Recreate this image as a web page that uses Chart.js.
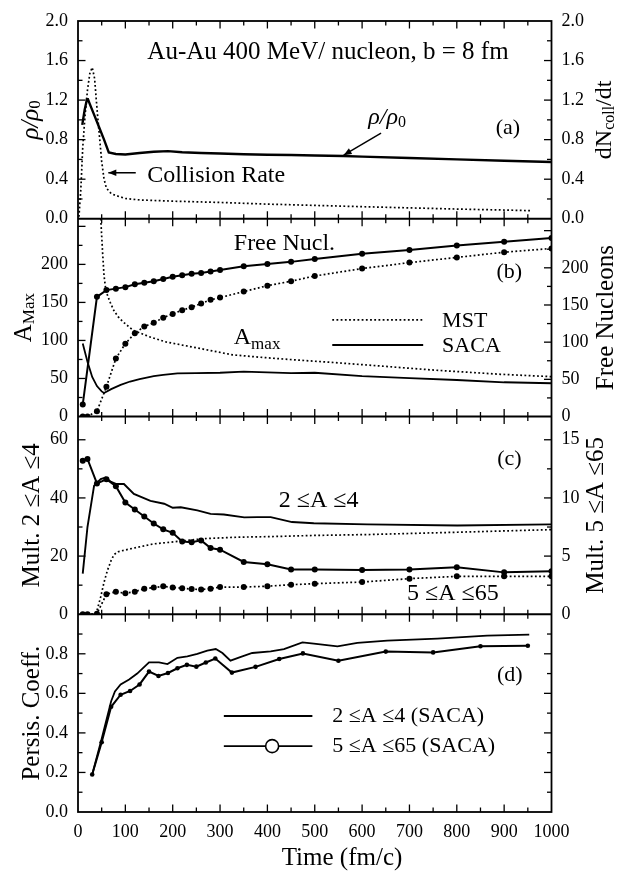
<!DOCTYPE html>
<html><head><meta charset="utf-8">
<script src="https://cdn.jsdelivr.net/npm/chart.js@4.4.1/dist/chart.umd.min.js"></script>
<style>html,body{margin:0;padding:0;background:#fff;}canvas{display:block;}</style>
</head><body>
<canvas id="c" width="620" height="872"></canvas>
<script>
const FONT = "'Liberation Serif','Times New Roman',Times,serif";

// ---------------- tick labels ----------------
const timeTicks   = [0,100,200,300,400,500,600,700,800,900,1000];
const rhoTicks    = [0,0.4,0.8,1.2,1.6,2.0];
const collTicks   = [0,0.4,0.8,1.2,1.6,2.0];
const amaxTicks   = [0,50,100,150,200];
const freeTicks   = [0,50,100,150,200];
const mult24Ticks = [0,20,40,60];
const mult565Ticks= [0,5,10,15];
const persTicks   = [0,0.2,0.4,0.6,0.8];

// ---------------- (a) density and collision rate ----------------
const rhoT  = [9,14,19,21,25,35,45,55,65,80,100,130,160,190,220,260,300,350,400,450,500,560,600,700,800,900,1000];
const rhoV  = [0.95,1.10,1.21,1.21,1.16,1.04,0.92,0.80,0.67,0.655,0.65,0.665,0.677,0.684,0.672,0.665,0.66,0.653,0.648,0.645,0.64,0.635,0.628,0.614,0.60,0.587,0.574];
const collT = [2,6,10,15,20,25,30,35,40,45,50,55,60,70,80,100,130,160,200,260,300,400,500,600,700,800,900,955];
const collV = [0.02,0.3,0.72,1.05,1.3,1.47,1.53,1.42,1.12,0.85,0.58,0.40,0.31,0.255,0.235,0.205,0.19,0.185,0.178,0.17,0.165,0.148,0.135,0.122,0.11,0.098,0.088,0.082];

// ---------------- (b) Amax and free nucleons ----------------
const freeSacaT = [10,40,60,80,100,120,140,160,180,200,220,240,260,280,300,350,400,450,500,600,700,800,900,1000];
const freeSacaV = [16,161,170,172,174,178,180,182,185,188,190,192,193,195,197,202,205,208,212,219,224,230,235,240];
const freeMstT  = [10,20,40,60,80,100,120,140,160,180,200,220,240,260,280,300,350,400,450,500,600,700,800,900,1000];
const freeMstV  = [0,0,7,40,78,98,112,121,126,133,138,143,147,152,157,160,168,176,182,189,199,207,214,221,226];
const amaxSacaT = [10,20,30,40,50,55,70,90,110,130,160,180,210,250,300,350,400,450,500,600,700,800,900,1000];
const amaxSacaV = [96,72,52,40,33,31,36,41.5,46,49,53,54.6,56.8,57,57.5,59,58,57,57.5,53,50.5,48,45,43.7];
const amaxMstT  = [48,52,55,58,62,68,76,85,95,116,150,186,257,327,397,468,540,611,752,892,1000];
const amaxMstV  = [260,215,185,170,160,150,139,131,124.5,113.5,105,98,89.5,81,77.3,74,71,67.7,61,55.5,52.4];

// ---------------- (c) multiplicities ----------------
const m24SacaT  = [10,20,34,48,58,70,80,97,118,153,182,200,217,252,280,308,351,379,407,452,498,611,801,1000];
const m24SacaV  = [14,30,44.2,46.5,47,45.5,44.8,44.8,41.4,39,38,36.6,36.8,35.7,34.5,34.3,33.3,33.4,33.4,31.7,31.3,30.9,30.5,30.9];
const m24MstT   = [38,48,55,62,70,76,85,97,125,160,196,266,336,407,498,611,801,1000];
const m24MstV   = [0,6,11,15,18.5,20.5,21.5,22,23,24.2,24.8,26,26.5,26.7,27.1,27.4,28.2,29.1];
const m565SacaT = [10,20,40,60,80,100,120,140,160,180,200,220,240,260,280,300,350,400,450,500,600,700,800,900,1000];
const m565SacaV = [13.2,13.35,11.25,11.6,11.0,9.6,9.0,8.4,7.8,7.3,7.0,6.25,6.2,6.35,5.7,5.55,4.5,4.3,3.85,3.85,3.8,3.85,4.05,3.6,3.7];
const m565MstT  = [10,20,40,60,80,100,120,140,160,180,200,220,240,260,280,300,350,400,450,500,600,700,800,900,1000];
const m565MstV  = [0,0,0.05,1.72,1.94,1.8,1.94,2.2,2.29,2.4,2.31,2.23,2.17,2.12,2.2,2.34,2.34,2.41,2.54,2.63,2.77,3.06,3.26,3.26,3.26];

// ---------------- (d) persistence coefficients ----------------
const pers24T  = [30,50,70,78,90,108,125,150,171,189,210,231,252,273,291,305,322,344,368,407,435,474,498,548,590,653,759,864,953];
const pers24V  = [0.19,0.37,0.56,0.61,0.645,0.67,0.70,0.757,0.757,0.748,0.78,0.787,0.80,0.816,0.824,0.804,0.765,0.784,0.804,0.8125,0.824,0.858,0.851,0.838,0.855,0.867,0.877,0.892,0.897];
const pers565T = [30,50,70,90,110,130,150,170,190,210,230,250,270,290,325,375,425,475,550,650,750,850,950];
const pers565V = [0.19,0.353,0.532,0.593,0.612,0.645,0.71,0.688,0.703,0.727,0.744,0.735,0.756,0.776,0.705,0.734,0.774,0.802,0.765,0.811,0.807,0.838,0.841];

// ---------------- helpers ----------------
const pts = (t, v) => t.map((x, i) => ({x, y: v[i]}));
const DOT = [1.8, 2.4];
function ds(t, v, axis, o) {
  return Object.assign({data: pts(t, v), yAxisID: axis, borderColor: '#000', backgroundColor: '#000',
    borderWidth: 2, pointRadius: 0, pointBorderWidth: 0, tension: 0, fill: false}, o || {});
}
const solid = (t, v, a, w) => ds(t, v, a, {borderWidth: w || 2});
const dotted = (t, v, a) => ds(t, v, a, {borderWidth: 1.7, borderDash: DOT});
const solidDots = (t, v, a, r) => ds(t, v, a, {borderWidth: 2, pointRadius: r || 3, pointBackgroundColor: '#000'});
const dottedDots = (t, v, a) => ds(t, v, a, {borderWidth: 1.7, borderDash: DOT, pointRadius: 3, pointBackgroundColor: '#000'});

function yScale(min, max, ticks, position, weight, fmt, show) {
  return {
    type: 'linear', position, stack: position, stackWeight: 1, weight, min, max,
    grid: {display: false, drawTicks: false}, border: {display: false},
    ticks: {display: show !== false, font: {size: 18, family: FONT}, color: '#000', padding: 10, autoSkip: false,
      callback: v => fmt ? v.toFixed(1) : String(v)},
    afterBuildTicks: s => { s.ticks = ticks.map(v => ({value: v})); },
    afterFit: s => { s.width = position === 'left' ? 78 : 68.5; }
  };
}

const datasets = [
  solid(rhoT, rhoV, 'yA', 2.4),
  dotted(collT, collV, 'yA2'),
  solidDots(freeSacaT, freeSacaV, 'yB2'),
  dottedDots(freeMstT, freeMstV, 'yB2'),
  solid(amaxSacaT, amaxSacaV, 'yB', 1.8),
  dotted(amaxMstT, amaxMstV, 'yB'),
  solid(m24SacaT, m24SacaV, 'yC', 1.9),
  dotted(m24MstT, m24MstV, 'yC'),
  solidDots(m565SacaT, m565SacaV, 'yC2'),
  dottedDots(m565MstT, m565MstV, 'yC2'),
  solid(pers24T, pers24V, 'yD', 1.8),
  solidDots(pers565T, pers565V, 'yD', 2.3)
];

// ---------------- text / decoration plugin ----------------
function fnt(p) { return (p.i ? 'italic ' : '') + (p.b ? 'bold ' : '') + p.s + 'px ' + FONT; }
function rich(ctx, parts, x, y, align, rot) {
  ctx.save();
  ctx.translate(x, y);
  if (rot) ctx.rotate(rot);
  ctx.textBaseline = 'middle';
  ctx.fillStyle = '#000';
  let w = 0;
  parts.forEach(p => { ctx.font = fnt(p); w += ctx.measureText(p.t).width; });
  let cx = align === 'center' ? -w / 2 : (align === 'right' ? -w : 0);
  parts.forEach(p => { ctx.font = fnt(p); ctx.fillText(p.t, cx, p.dy || 0); cx += ctx.measureText(p.t).width; });
  ctx.restore();
}
function arrow(ctx, x0, y0, x1, y1, head) {
  ctx.save();
  ctx.strokeStyle = '#000'; ctx.fillStyle = '#000'; ctx.lineWidth = 1.5;
  ctx.beginPath(); ctx.moveTo(x0, y0); ctx.lineTo(x1, y1); ctx.stroke();
  const a = Math.atan2(y1 - y0, x1 - x0), L = head, W = head * 0.4;
  ctx.beginPath();
  ctx.moveTo(x1, y1);
  ctx.lineTo(x1 - L * Math.cos(a) + W * Math.sin(a), y1 - L * Math.sin(a) - W * Math.cos(a));
  ctx.lineTo(x1 - L * Math.cos(a) - W * Math.sin(a), y1 - L * Math.sin(a) + W * Math.cos(a));
  ctx.closePath(); ctx.fill();
  ctx.restore();
}

const deco = {
  id: 'deco',
  afterDatasetsDraw(chart) {
    const {ctx, chartArea: ca, scales: S} = chart;
    const X = v => S.x.getPixelForValue(v);
    const Y = (id, v) => S[id].getPixelForValue(v);
    ctx.save();
    ctx.strokeStyle = '#000';
    ctx.lineWidth = 1.8;
    ctx.strokeRect(ca.left, ca.top, ca.right - ca.left, ca.bottom - ca.top);
    ['yA', 'yB', 'yC'].forEach(id => {
      ctx.beginPath(); ctx.moveTo(ca.left, S[id].bottom); ctx.lineTo(ca.right, S[id].bottom); ctx.stroke();
    });
    // y tick marks (inward)
    ctx.lineWidth = 1.3;
    const yMarks = [['yA', 0.2, 2, 'l'], ['yA2', 0.2, 2, 'r'], ['yB', 25, 2, 'l'], ['yB2', 25, 2, 'r'],
      ['yC', 10, 2, 'l'], ['yC2', 2.5, 2, 'r'], ['yD', 0.1, 2, 'l'], ['yD2', 0.1, 2, 'r']];
    yMarks.forEach(([id, step, every, side]) => {
      const s = S[id];
      for (let k = 1; k * step < s.max - step * 0.3; k++) {
        const py = s.getPixelForValue(k * step);
        const len = (k % every === 0) ? 7.5 : 4.5;
        ctx.beginPath();
        if (side === 'l') { ctx.moveTo(ca.left, py); ctx.lineTo(ca.left + len, py); }
        else { ctx.moveTo(ca.right, py); ctx.lineTo(ca.right - len, py); }
        ctx.stroke();
      }
    });
    // x tick marks at each panel boundary
    const bounds = [[S.yA.top, 1, 0], [S.yA.bottom, 1, 1], [S.yB.bottom, 1, 1], [S.yC.bottom, 1, 1], [S.yD.bottom, 0, 1]];
    for (let t = 50; t < 1000; t += 50) {
      const px = X(t);
      const len = (t % 100 === 0) ? 7.5 : 4.5;
      bounds.forEach(([by, down, up]) => {
        ctx.beginPath();
        ctx.moveTo(px, by - (up ? len : 0));
        ctx.lineTo(px, by + (down ? len : 0));
        ctx.stroke();
      });
    }
    ctx.restore();

    // axis titles
    const R = -Math.PI / 2;
    const midA = (S.yA.top + S.yA.bottom) / 2, midB = (S.yB.top + S.yB.bottom) / 2;
    const midC = (S.yC.top + S.yC.bottom) / 2, midD = (S.yD.top + S.yD.bottom) / 2;
    rich(ctx, [{t: 'ρ/ρ', s: 25, i: 1}, {t: '0', s: 17, dy: 5}], 31, midA, 'center', R);
    rich(ctx, [{t: 'dN', s: 24}, {t: 'coll', s: 16, dy: 5}, {t: '/dt', s: 24}], 605, midA, 'center', R);
    rich(ctx, [{t: 'A', s: 25}, {t: 'Max', s: 17, dy: 6}], 24, midB, 'center', R);
    rich(ctx, [{t: 'Free Nucleons', s: 25}], 606, midB, 'center', R);
    rich(ctx, [{t: 'Mult. 2 ≤A ≤4', s: 25}], 32, midC, 'center', R);
    rich(ctx, [{t: 'Mult. 5 ≤A ≤65', s: 25}], 596, midC, 'center', R);
    rich(ctx, [{t: 'Persis. Coeff.', s: 25}], 32, midD, 'center', R);
    rich(ctx, [{t: 'Time (fm/c)', s: 25}], 342, 858, 'center');

    // panel (a) annotations
    rich(ctx, [{t: 'Au-Au 400 MeV/ nucleon, b = 8 fm', s: 25}], X(528), Y('yA', 1.685), 'center');
    rich(ctx, [{t: 'Collision Rate', s: 24}], X(146), Y('yA', 0.44), 'left');
    arrow(ctx, X(122), Y('yA', 0.465), X(64), Y('yA', 0.465), 8);
    rich(ctx, [{t: 'ρ/ρ', s: 24, i: 1}, {t: '0', s: 16, dy: 5}], X(613), Y('yA', 1.02), 'left');
    arrow(ctx, X(640), Y('yA', 0.865), X(561), Y('yA', 0.643), 8);
    rich(ctx, [{t: '(a)', s: 22}], X(908), Y('yA', 0.92), 'center');

    // panel (b)
    rich(ctx, [{t: 'Free Nucl.', s: 24}], X(329), Y('yB', 227), 'left');
    rich(ctx, [{t: 'A', s: 24}, {t: 'max', s: 17, dy: 7}], X(329), Y('yB', 104), 'left');
    rich(ctx, [{t: '(b)', s: 22}], X(911), Y('yB', 190), 'center');
    ctx.save();
    ctx.strokeStyle = '#000';
    ctx.lineWidth = 1.7; ctx.setLineDash(DOT);
    ctx.beginPath(); ctx.moveTo(X(537), Y('yB', 127)); ctx.lineTo(X(729), Y('yB', 127)); ctx.stroke();
    ctx.setLineDash([]); ctx.lineWidth = 2;
    ctx.beginPath(); ctx.moveTo(X(537), Y('yB', 94)); ctx.lineTo(X(729), Y('yB', 94)); ctx.stroke();
    ctx.restore();
    rich(ctx, [{t: 'MST', s: 22}], X(769), Y('yB', 125), 'left');
    rich(ctx, [{t: 'SACA', s: 22}], X(769), Y('yB', 92), 'left');

    // panel (c)
    rich(ctx, [{t: '2 ≤A ≤4', s: 24}], X(424), Y('yC', 39), 'left');
    rich(ctx, [{t: '5 ≤A ≤65', s: 24}], X(695), Y('yC', 7.2), 'left');
    rich(ctx, [{t: '(c)', s: 22}], X(911), Y('yC', 53.4), 'center');

    // panel (d)
    ctx.save();
    ctx.strokeStyle = '#000'; ctx.lineWidth = 2;
    ctx.beginPath(); ctx.moveTo(X(308), Y('yD', 0.485)); ctx.lineTo(X(495), Y('yD', 0.485)); ctx.stroke();
    ctx.lineWidth = 1.6;
    ctx.beginPath(); ctx.moveTo(X(308), Y('yD', 0.333)); ctx.lineTo(X(495), Y('yD', 0.333)); ctx.stroke();
    ctx.fillStyle = '#fff';
    ctx.beginPath(); ctx.arc(X(410), Y('yD', 0.333), 6.5, 0, Math.PI * 2); ctx.fill(); ctx.stroke();
    ctx.restore();
    rich(ctx, [{t: '2 ≤A ≤4 (SACA)', s: 22}], X(537), Y('yD', 0.485), 'left');
    rich(ctx, [{t: '5 ≤A ≤65 (SACA)', s: 22}], X(537), Y('yD', 0.333), 'left');
    rich(ctx, [{t: '(d)', s: 22}], X(912), Y('yD', 0.692), 'center');
  }
};

new Chart(document.getElementById('c'), {
  type: 'line',
  data: {datasets},
  options: {
    responsive: false, animation: false, devicePixelRatio: 1,
    layout: {padding: {top: 21, left: 0, right: 0, bottom: 0}},
    plugins: {legend: {display: false}, tooltip: {enabled: false}},
    scales: {
      x: {type: 'linear', position: 'bottom', min: 0, max: 1000,
        grid: {display: false, drawTicks: false}, border: {display: false},
        ticks: {font: {size: 18, family: FONT}, color: '#000', padding: 9, autoSkip: false, maxRotation: 0,
          callback: v => String(v)},
        afterBuildTicks: s => { s.ticks = timeTicks.map(v => ({value: v})); },
        afterFit: s => { s.height = 60; }},
      yA: yScale(0, 2.0, rhoTicks, 'left', 4, true),
      yB: yScale(0, 260, amaxTicks, 'left', 3, false),
      yC: yScale(0, 68, mult24Ticks, 'left', 2, false),
      yD: yScale(0, 1.0, persTicks, 'left', 1, true),
      yA2: yScale(0, 2.0, collTicks, 'right', 1, true),
      yB2: yScale(0, 266, freeTicks, 'right', 2, false),
      yC2: yScale(0, 17, mult565Ticks, 'right', 3, false),
      yD2: yScale(0, 1.0, [], 'right', 4, true, false)
    }
  },
  plugins: [deco]
});
</script>
</body></html>
